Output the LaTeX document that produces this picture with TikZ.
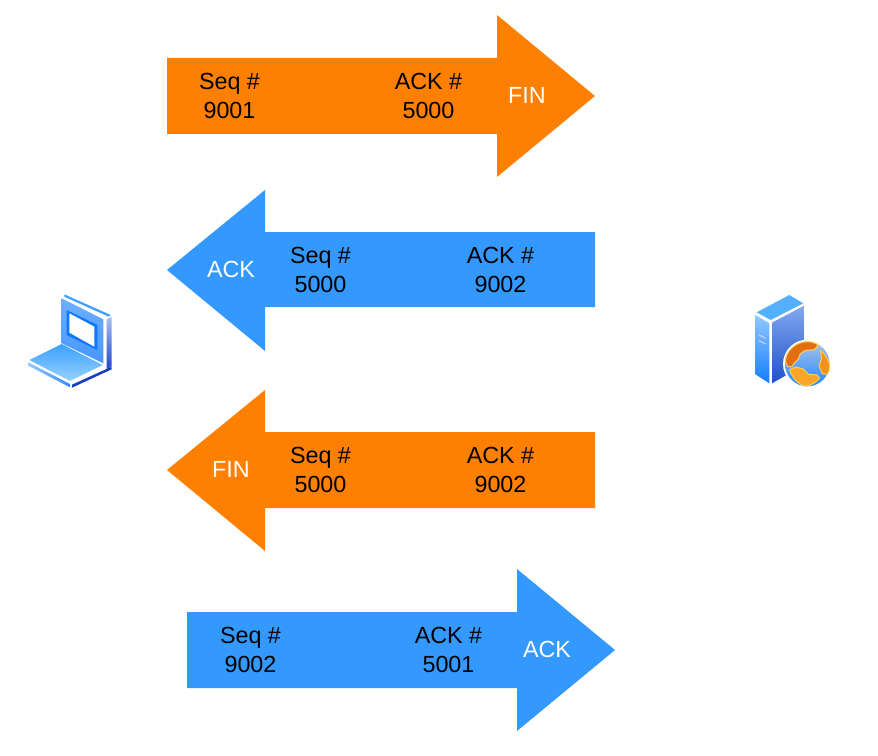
\documentclass[tikz,border=0pt]{standalone}
\usepackage{fontspec}
\setmainfont{Liberation Sans}
\definecolor{fillorange}{HTML}{FF8000}
\definecolor{fillblue}{HTML}{3399FF}
\tikzset{
  orangearrow/.style={fill=fillorange,draw=none},
  bluearrow/.style={fill=fillblue,draw=none},
  seqlabel/.style={align=center,font=\fontsize{17.5}{21.75}\selectfont,text=black,inner sep=0pt},
  flaglabel/.style={font=\fontsize{17.5}{21.75}\selectfont,text=white,inner sep=0pt}
}
\begin{document}
\begin{tikzpicture}[x=0.75pt,y=-0.75pt]
  \useasboundingbox (0,0) rectangle (878,756);

  % FIN from the client
  \fill [orangearrow] (167,58) -- (497,58) -- (497,15) -- (595,96) -- (497,177) -- (497,134) -- (167,134) -- cycle;
  \node[seqlabel] (seqa) at (229.5,95.5) {Seq \#\\9001};
  \node[seqlabel] (acka) at (428.5,95.5) {ACK \#\\5000};
  \node[flaglabel] (flaga) at (527,95.5) {FIN};

  % ACK from the server
  \fill [bluearrow] (595,232) -- (265,232) -- (265,190) -- (167,270) -- (265,351) -- (265,307) -- (595,307) -- cycle;
  \node[seqlabel] (seqb) at (320.5,269.5) {Seq \#\\5000};
  \node[seqlabel] (ackb) at (500.5,269.5) {ACK \#\\9002};
  \node[flaglabel] (flagb) at (231,269.5) {ACK};

  % FIN from the server
  \fill [orangearrow] (595,432) -- (265,432) -- (265,390) -- (167,470) -- (265,551) -- (265,508) -- (595,508) -- cycle;
  \node[seqlabel] (seqc) at (320.5,469.5) {Seq \#\\5000};
  \node[seqlabel] (ackc) at (500.5,469.5) {ACK \#\\9002};
  \node[flaglabel] (flagc) at (231,469.5) {FIN};

  % last ACK
  \fill [bluearrow] (187,612) -- (517,612) -- (517,569) -- (615,650) -- (517,731) -- (517,688) -- (187,688) -- cycle;
  \node[seqlabel] (seqd) at (250.5,649.5) {Seq \#\\9002};
  \node[seqlabel] (ackd) at (448.5,649.5) {ACK \#\\5001};
  \node[flaglabel] (flagd) at (547,649.5) {ACK};

  % laptop
  \begin{scope}[shift={(10,280)},x=0.25pt,y=-0.25pt]
    \fill [color={rgb,255:red,60;green,160;blue,255}] (163,43) -- (302,105) -- (296,110) -- (163,50) -- cycle;
    \shade [top color={rgb,255:red,110;green,175;blue,255},bottom color={rgb,255:red,70;green,150;blue,255}]
      (155,55) -- (280,118) -- (280,250) -- (155,190) -- cycle;
    \fill [color={rgb,255:red,10;green,120;blue,255}] (170,90) -- (262,135) -- (262,210) -- (170,165) -- cycle;
    \fill [white] (178,100) -- (253,140) -- (253,200) -- (178,158) -- cycle;
    \shade [top color={rgb,255:red,170;green,190;blue,240},bottom color={rgb,255:red,30;green,70;blue,200}]
      (290,118) -- (305,110) -- (305,258) -- (290,268) -- cycle;
    \shade [top color={rgb,255:red,60;green,160;blue,255},bottom color={rgb,255:red,150;green,210;blue,255}]
      (58,240) -- (155,192) -- (278,255) -- (180,303) -- cycle;
    \shade [left color={rgb,255:red,150;green,205;blue,255},right color={rgb,255:red,50;green,140;blue,255}]
      (55,247) -- (180,312) -- (180,322) -- (55,257) -- cycle;
    \fill [color={rgb,255:red,25;green,60;blue,190}] (186,314) -- (305,260) -- (305,268) -- (186,323) -- cycle;
  \end{scope}

  % server
  \begin{scope}[shift={(740,285)},x=0.25pt,y=-0.25pt]
    \fill [color={rgb,255:red,85;green,175;blue,255}] (50,82) -- (148,30) -- (190,55) -- (92,105) -- cycle;
    \shade [top color={rgb,255:red,145;green,200;blue,255},bottom color={rgb,255:red,20;green,125;blue,255}]
      (46,90) -- (88,115) -- (88,295) -- (46,268) -- cycle;
    \shade [top color={rgb,255:red,130;green,170;blue,240},bottom color={rgb,255:red,30;green,80;blue,200}]
      (96,113) -- (192,62) -- (192,240) -- (96,295) -- cycle;
    \fill [white!80!blue] (57,148) -- (77,158) -- (77,162) -- (57,152) -- cycle;
    \fill [white!80!blue] (57,165) -- (77,175) -- (77,179) -- (57,169) -- cycle;
  \end{scope}

  % globe
  \begin{scope}[shift={(775,335)},x=0.25pt,y=-0.25pt]
    \fill [white] (97,87) circle (73);
    \shade [top color={rgb,255:red,170;green,195;blue,230},bottom color={rgb,255:red,30;green,135;blue,255}] (97,87) circle (67);
    \begin{scope}[line width=0.8pt,line join=round,draw={rgb,255:red,255;green,205;blue,90}]
      \filldraw [fill={rgb,255:red,225;green,110;blue,15}] (31,80) .. controls (32,50) and (60,20) .. (97,20) .. controls (110,20) and (122,24) .. (130,30) -- (118,44) -- (92,46) -- (76,56) -- (70,72) -- (58,84) -- (50,96) -- (38,94) -- cycle;
      \filldraw [fill={rgb,255:red,250;green,165;blue,40}] (44,104) -- (62,96) -- (84,102) -- (100,118) -- (126,120) -- (134,130) .. controls (120,145) and (105,153) .. (90,153) .. controls (70,148) and (52,130) .. (44,104) -- cycle;
      \filldraw [fill={rgb,255:red,240;green,145;blue,30}] (136,46) .. controls (152,60) and (164,78) .. (164,92) .. controls (164,102) and (162,110) .. (158,118) -- (142,116) -- (132,92) -- (140,70) -- cycle;
    \end{scope}
  \end{scope}
\end{tikzpicture}
\end{document}
